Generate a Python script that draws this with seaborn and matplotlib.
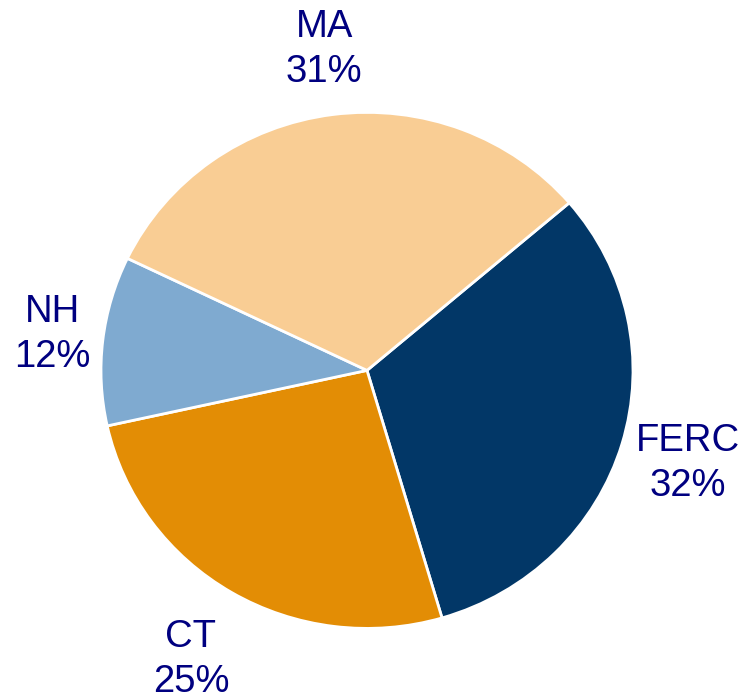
import matplotlib
matplotlib.use("Agg")
import matplotlib.pyplot as plt
import numpy as np
import seaborn as sns

# slice shares; printed labels kept as text
regions = ["FERC", "CT", "NH", "MA"]
shares = [31.7, 26.1, 10.6, 31.6]
pct_labels = ["32%", "25%", "12%", "31%"]
colors = ["#023767", "#E38D05", "#7FAAD0", "#F9CD94"]
label_dist = [1.26, 1.30, 1.19, 1.255]

sns.set_theme(style="white")
plt.rcParams["font.family"] = ["Liberation Sans", "DejaVu Sans"]

fig = plt.figure(figsize=(7.46, 6.99), dpi=100)
ax = fig.add_axes([0, 0, 1, 1])

labels = [f"{r}\n{p}" for r, p in zip(regions, pct_labels)]
wedges, texts = ax.pie(
    shares,
    labels=labels,
    colors=colors,
    startangle=40.5,
    counterclock=False,
    wedgeprops={"edgecolor": "white", "linewidth": 2},
    textprops={"color": "#000080", "fontsize": 27.5},
)
for w, t, d in zip(wedges, texts, label_dist):
    mid = np.deg2rad((w.theta1 + w.theta2) / 2)
    t.set_position((d * np.cos(mid), d * np.sin(mid)))
    t.set_ha("center")
    t.set_va("center")
    t.set_linespacing(1.32)

# pixel-based limits: centre at (367, 370) from top-left, radius ~266 x 258 px
ax.set_aspect("auto")
ax.set_xlim(-367 / 266, (746 - 367) / 266)
ax.set_ylim(-(699 - 370.4) / 258, 370.4 / 258)
ax.axis("off")

fig.savefig("out.png", dpi=100)
plt.close(fig)
